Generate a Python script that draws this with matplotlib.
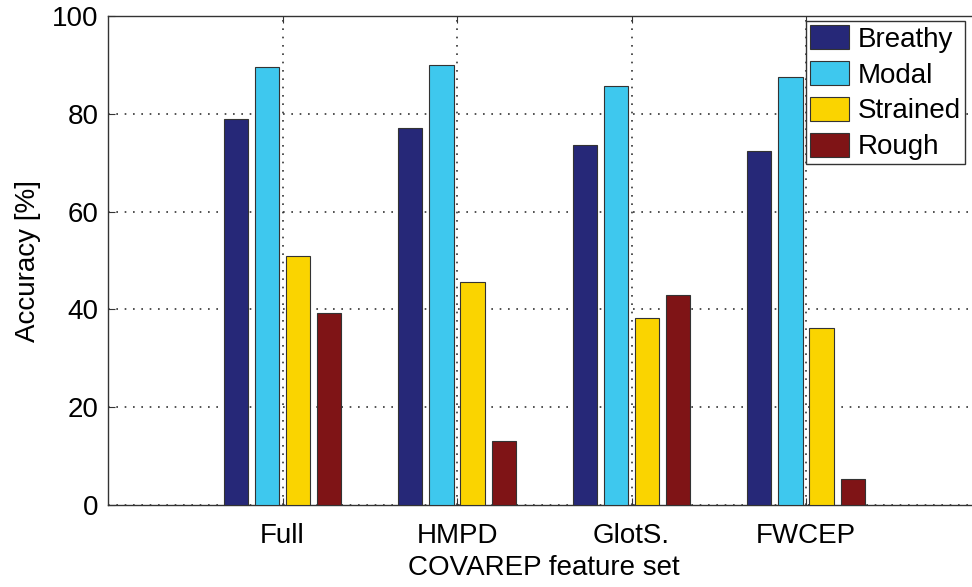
import numpy as np
import matplotlib
matplotlib.use("Agg")
import matplotlib.pyplot as plt

plt.rcParams['font.family'] = ['Liberation Sans', 'DejaVu Sans']

feature_sets = ['Full', 'HMPD', 'GlotS.', 'FWCEP']
classes = ['Breathy', 'Modal', 'Strained', 'Rough']
breathy = [78.9, 77.1, 73.6, 72.4]
modal = [89.6, 90.0, 85.7, 87.5]
strained = [50.9, 45.6, 38.2, 36.2]
rough = [39.3, 13.1, 42.9, 5.3]
colors = ['#262878', '#3ec8ee', '#fad400', '#7f1416']

fig = plt.figure(figsize=(9.72, 5.87), dpi=100)
ax = fig.add_axes([108/972, 82/587, 872.5/972, 489/587])

x = np.arange(1, len(feature_sets) + 1)
offsets = [-0.267, -0.089, 0.089, 0.267]
series = [breathy, modal, strained, rough]
for vals, off, col, lab in zip(series, offsets, colors, classes):
    ax.bar(x + off, vals, width=0.138, color=col, edgecolor='#333333',
           linewidth=0.8, label=lab, zorder=3)

ax.set_xlim(0, 5)
ax.set_ylim(0, 100)
ax.set_xticks(x)
ax.set_xticklabels(feature_sets)
ax.set_yticks(np.arange(0, 101, 20))
ax.tick_params(direction='in', length=5, labelsize=20, top=True, right=True,
               color='#333333')
ax.tick_params(axis='x', pad=13)
ax.tick_params(axis='y', pad=7)
ax.grid(True, linestyle=(0, (1, 4)), color='#333333', linewidth=1.2, zorder=1)
for s in ax.spines.values():
    s.set_color('#333333')
    s.set_linewidth(1.0)

ax.set_ylabel('Accuracy [%]', fontsize=20, labelpad=8)
ax.set_xlabel('COVAREP feature set', fontsize=20, labelpad=4)

leg = ax.legend(loc='upper left', fontsize=20, fancybox=False,
                edgecolor='#333333', framealpha=1, handlelength=1.4,
                handleheight=0.95, handletextpad=0.3, borderpad=0.15,
                labelspacing=0.3, borderaxespad=0)
leg.set_bbox_to_anchor((806/972, 1 - 21/587), transform=fig.transFigure)
leg.get_frame().set_linewidth(1.0)
leg.set_zorder(5)

fig.savefig('out.png', dpi=100)
